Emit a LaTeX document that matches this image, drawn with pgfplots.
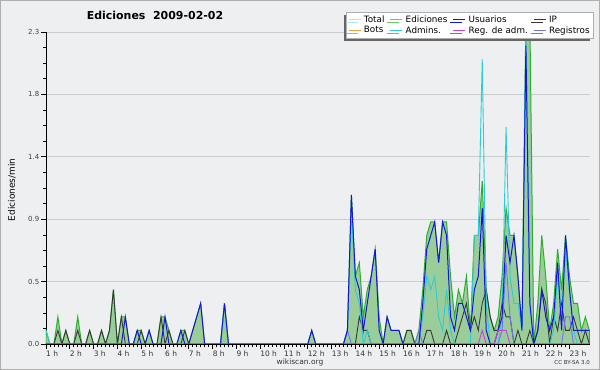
\documentclass[border=0pt]{standalone}
\usepackage{fontspec}
\setmainfont{DejaVu Sans}
\usepackage{pgfplots}
\pgfplotsset{compat=1.18}
\usepackage{pgfplotstable}
\usetikzlibrary{shadows}
\definecolor{bg}{RGB}{238,239,241}
\definecolor{framec}{RGB}{175,175,175}
\definecolor{gfill}{RGB}{155,205,155}
\definecolor{gline}{RGB}{45,175,45}
\definecolor{ublue}{RGB}{20,20,225}
\definecolor{acyan}{RGB}{40,205,215}
\definecolor{ipk}{RGB}{55,55,55}
\definecolor{regv}{RGB}{115,115,240}
\definecolor{ram}{RGB}{205,60,225}
\definecolor{tot}{RGB}{175,232,230}
\definecolor{bots}{RGB}{245,160,60}
\pgfplotstableread{
i G B C K V M
0 0.1 0 0.1 0 0 0
1 0 0 0 0 0 0
2 0 0 0 0 0 0
3 0.2 0 0 0.1 0 0
4 0 0 0 0 0 0
5 0.1 0 0 0.1 0 0
6 0 0 0 0 0 0
7 0 0 0 0 0 0
8 0.2 0 0 0.1 0 0
9 0 0 0 0 0 0
10 0 0 0 0 0 0
11 0.1 0 0 0.1 0 0
12 0 0 0 0 0 0
13 0 0 0 0 0 0
14 0.1 0 0 0.1 0 0
15 0 0 0 0 0 0
16 0.1 0 0 0.1 0 0
17 0.4 0 0 0.4 0 0
18 0 0 0 0 0 0
19 0.2 0 0 0.2 0 0
20 0.2 0.2 0 0 0 0
21 0 0 0 0 0 0
22 0 0 0 0 0 0
23 0.1 0.1 0 0 0 0
24 0.1 0 0 0.1 0 0
25 0 0 0 0 0 0
26 0.1 0.1 0 0 0 0
27 0 0 0 0 0 0
28 0 0 0 0 0 0
29 0.2 0 0 0.2 0 0
30 0.2 0.2 0 0 0 0
31 0.1 0 0 0.1 0 0
32 0 0 0 0 0 0
33 0 0 0 0 0 0
34 0.1 0.1 0 0 0 0
35 0.1 0 0 0.1 0 0
36 0 0 0 0 0 0
37 0.1 0.1 0 0 0 0
38 0.2 0.2 0 0 0 0
39 0.3 0.3 0 0 0 0
40 0 0 0 0 0 0
41 0 0 0 0 0 0
42 0 0 0 0 0 0
43 0 0 0 0 0 0
44 0 0 0 0 0 0
45 0.3 0.3 0.3 0 0 0
46 0 0 0 0 0 0
47 0 0 0 0 0 0
48 0 0 0 0 0 0
49 0 0 0 0 0 0
50 0 0 0 0 0 0
51 0 0 0 0 0 0
52 0 0 0 0 0 0
53 0 0 0 0 0 0
54 0 0 0 0 0 0
55 0 0 0 0 0 0
56 0 0 0 0 0 0
57 0 0 0 0 0 0
58 0 0 0 0 0 0
59 0 0 0 0 0 0
60 0 0 0 0 0 0
61 0 0 0 0 0 0
62 0 0 0 0 0 0
63 0 0 0 0 0 0
64 0 0 0 0 0 0
65 0 0 0 0 0 0
66 0 0 0 0 0 0
67 0.1 0.1 0 0 0 0
68 0 0 0 0 0 0
69 0 0 0 0 0 0
70 0 0 0 0 0 0
71 0 0 0 0 0 0
72 0 0 0 0 0 0
73 0 0 0 0 0 0
74 0 0 0 0 0 0
75 0 0 0 0 0 0
76 0.1 0.1 0.1 0 0.1 0
77 1.1 1.1 1.0 0 0 0
78 0.5 0.5 0.4 0 0 0
79 0.6 0.4 0.3 0.2 0 0
80 0.2 0.1 0 0.1 0 0
81 0.4 0.3 0.1 0.1 0 0
82 0.5 0.5 0 0 0 0
83 0.7 0.7 0 0 0 0
84 0.2 0.1 0 0 0 0
85 0 0 0 0 0 0
86 0.2 0.2 0 0 0 0
87 0.1 0.1 0 0 0 0
88 0.1 0.1 0 0 0 0
89 0.1 0.1 0 0 0 0
90 0 0 0 0 0 0
91 0.1 0 0 0.1 0 0
92 0.1 0 0 0.1 0 0
93 0 0 0 0 0 0
94 0.1 0 0 0 0.1 0
95 0.4 0.3 0.2 0 0 0
96 0.8 0.7 0.5 0.1 0 0
97 0.9 0.8 0.4 0.1 0 0
98 0.9 0.9 0.5 0 0 0
99 0.6 0.6 0.2 0 0 0
100 0.9 0.9 0.1 0 0 0
101 0.9 0.8 0.4 0.1 0 0
102 0.5 0.2 0.1 0 0 0
103 0.2 0.1 0 0 0 0
104 0.4 0.3 0 0.1 0 0
105 0.3 0.3 0 0.2 0 0
106 0.5 0.2 0 0.3 0 0
107 0.1 0.1 0 0.1 0 0
108 0.8 0.4 0.8 0.2 0 0
109 0.8 0.5 0.8 0.1 0 0
110 1.2 1.0 2.1 0.3 0 0.1
111 0.4 0.1 0.3 0.4 0 0
112 0.2 0 0 0.2 0 0
113 0.1 0 0 0.1 0 0
114 0.2 0.1 0 0.1 0 0.1
115 0.5 0.2 0.2 0.3 0.1 0.1
116 1.0 0.8 1.6 0.2 0.6 0.1
117 0.8 0.6 0.5 0.2 0.2 0
118 0.8 0.8 0.3 0 0 0
119 0.5 0.5 0.3 0.1 0 0
120 0.1 0.1 0.1 0 0 0
121 2.4 2.2 2.3 0 0 0
122 2.4 0.3 0.3 0.1 0 0
123 0 0 0 0 0 0
124 0.3 0.1 0 0.1 0 0
125 0.8 0.4 0 0.4 0 0
126 0.5 0.2 0 0.3 0 0
127 0.1 0.1 0 0 0 0
128 0.3 0.2 0.1 0.2 0 0
129 0.7 0.6 0.5 0.1 0 0
130 0.4 0.1 0.2 0.3 0 0
131 0.8 0.8 0.7 0.1 0.2 0
132 0.5 0.4 0.4 0.1 0.2 0
133 0.3 0.1 0.1 0.2 0 0
134 0.3 0.1 0 0.1 0 0
135 0.1 0.1 0 0 0 0
136 0.2 0.1 0 0.1 0 0
137 0.1 0.1 0 0 0 0
}\data
\begin{document}
\begin{tikzpicture}
\useasboundingbox (-46bp,-26bp) rectangle (554bp,344bp);
\fill[bg] (-46bp,-26bp) rectangle (554bp,344bp);
\begin{axis}[
  scale only axis, width=544bp, height=312bp,
  xmin=1, xmax=23.86, ymin=0, ymax=2.3,
  axis x line*=bottom, axis y line*=left,
  axis line style={-, black, line width=0.9pt},
  tick align=outside,
  major tick length=5bp, minor tick length=3bp,
  every tick/.style={black, line width=0.6pt},
  xtick={1,...,23},
  xticklabels={1 h,2 h,3 h,4 h,5 h,6 h,7 h,8 h,9 h,10 h,11 h,12 h,13 h,14 h,15 h,16 h,17 h,18 h,19 h,20 h,21 h,22 h,23 h},
  xticklabel style={anchor=north west, inner xsep=0pt, inner ysep=1.5bp, font=\fontsize{7.5}{8}\selectfont, text=black!80},
  minor x tick num=5,
  ytick={0,0.46,0.92,1.38,1.84,2.3},
  yticklabels={0.0,0.5,0.9,1.4,1.8,2.3},
  yticklabel style={font=\fontsize{7}{8}\selectfont, text=black!75, inner xsep=1.5bp},
  minor y tick num=3,
  ymajorgrids, grid style={black!20, line width=0.6pt},
  legend columns=4,
  legend cell align=left,
  legend style={at={(1.006,1.064)}, anchor=north east, draw=framec, fill=white,
    font=\fontsize{8.8}{9}\selectfont, inner sep=1.5bp, row sep=-1.5bp,
    /tikz/every even column/.append style={column sep=3.5bp},
    /tikz/every odd column/.append style={column sep=1bp},
    drop shadow={shadow xshift=-3bp, shadow yshift=-3bp, fill=black!60, opacity=1}},
  legend image code/.code={\draw[#1] (0bp,0bp) -- (12bp,0bp);},
]
\addplot[fill=gfill, draw=gline, line width=1pt, forget plot] table[x expr=1+\thisrow{i}/6, y=G] {\data} \closedcycle;
\addplot[ipk, line width=0.9pt, forget plot] table[x expr=1+\thisrow{i}/6, y=K] {\data};
\addplot[acyan, line width=0.9pt, forget plot] table[x expr=1+\thisrow{i}/6, y=C] {\data};
\addplot[regv, line width=0.9pt, forget plot] table[x expr=1+\thisrow{i}/6, y=V] {\data};
\addplot[ublue, line width=1pt, forget plot] table[x expr=1+\thisrow{i}/6, y=B] {\data};
\addplot[ram, line width=0.9pt, forget plot] table[x expr=1+\thisrow{i}/6, y=M] {\data};
\addlegendimage{tot, line width=0.8pt}\addlegendentry{Total}
\addlegendimage{gline!70, line width=0.8pt}\addlegendentry{Ediciones}
\addlegendimage{ublue, line width=0.8pt}\addlegendentry{Usuarios}
\addlegendimage{ipk, line width=0.8pt}\addlegendentry{IP}
\addlegendimage{bots, line width=0.8pt}\addlegendentry{Bots}
\addlegendimage{acyan, line width=0.8pt}\addlegendentry{Admins.}
\addlegendimage{ram, line width=0.8pt}\addlegendentry{Reg. de adm.}
\addlegendimage{regv, line width=0.8pt}\addlegendentry{Registros}
\draw[black, line width=0.9pt] (rel axis cs:0,0) -- (rel axis cs:1,0);
\end{axis}
\node[font=\bfseries\fontsize{11}{12}\selectfont] at (109bp,329bp) {Ediciones\ \ 2009-02-02};
\node[rotate=90, font=\fontsize{9}{10}\selectfont] at (-34bp,154bp) {Ediciones/min};
\node[font=\fontsize{7.5}{8}\selectfont, text=black!80] at (254bp,-18bp) {wikiscan.org};
\node[anchor=east, font=\fontsize{5.5}{6}\selectfont, text=black!80, inner xsep=0pt] at (544bp,-19bp) {CC BY-SA 3.0};
\draw[framec, line width=1.5bp] (-45.25bp,-25.25bp) rectangle (553.25bp,343.25bp);
\end{tikzpicture}
\end{document}
